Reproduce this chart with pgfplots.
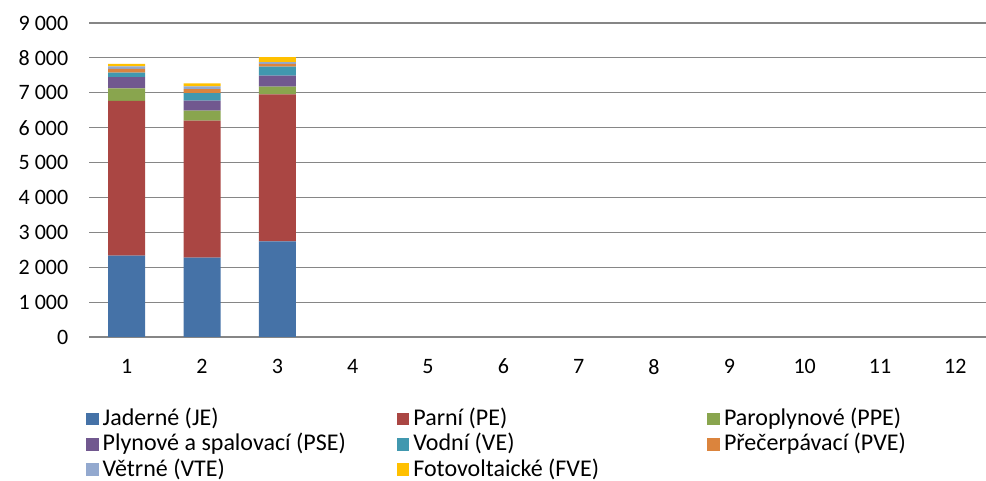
\documentclass[border=0pt]{standalone}
\usepackage{pgfplots}
\pgfplotsset{compat=1.18}
\usepackage{fontspec}
\setmainfont{Carlito}
\definecolor{cJE}{HTML}{4572A7}
\definecolor{cPE}{HTML}{AA4643}
\definecolor{cPPE}{HTML}{89A54E}
\definecolor{cPSE}{HTML}{71588F}
\definecolor{cVE}{HTML}{4198AF}
\definecolor{cPVE}{HTML}{DB843D}
\definecolor{cVTE}{HTML}{93A9CF}
\definecolor{cFVE}{HTML}{FFC000}
\definecolor{gridc}{HTML}{868686}
\newcommand{\lc}[1]{\makebox[220.5pt][l]{#1}}
\begin{document}
\begin{tikzpicture}
\useasboundingbox (0,0) rectangle (739.5pt,360.75pt);
\clip (0,0) rectangle (739.5pt,360.75pt);
\begin{axis}[
  at={(66.75pt,108pt)}, anchor=south west,
  scale only axis,
  width=678pt, height=235.5pt,
  ybar stacked, bar width=27.75pt,
  xmin=0.5, xmax=12.5,
  ymin=0, ymax=9000,
  xtick={1,...,12},
  ytick={0,1000,...,9000},
  yticklabels={0,1 000,2 000,3 000,4 000,5 000,6 000,7 000,8 000,9 000},
  ymajorgrids,
  grid style={gridc, line width=0.9pt},
  axis x line*=bottom, axis y line*=left,
  x axis line style={gridc, line width=1.3pt, -},
  y axis line style={draw=none},
  major tick length=0pt,
  tick label style={font=\fontsize{16.5}{19}\selectfont},
  /pgf/number format/assume math mode=true,
  xticklabel style={yshift=-13pt},
  yticklabel style={xshift=-12pt},
  every axis plot/.append style={draw=none},
  legend cell align=left,
  legend columns=3,
  legend image code/.code={\fill[#1] (0pt,-4.75pt) rectangle (9.5pt,4.75pt);},
  legend style={at={(-0.0033,-0.2225)}, anchor=north west, draw=none, fill=none,
    inner sep=0pt, outer sep=0pt,
    font=\fontsize{18}{21}\selectfont, row sep=1pt,
    nodes={inner xsep=0pt, inner ysep=1pt, text height=13pt, text depth=3pt},
    /tikz/every odd column/.style={column sep=3pt},
    /tikz/every even column/.style={column sep=0pt},
  },
]
\addplot[fill=cJE] coordinates {(1,2334) (2,2277) (3,2738)};
\addplot[fill=cPE] coordinates {(1,4435) (2,3922) (3,4213)};
\addplot[fill=cPPE] coordinates {(1,355) (2,289) (3,222)};
\addplot[fill=cPSE] coordinates {(1,327) (2,289) (3,318)};
\addplot[fill=cVE] coordinates {(1,127) (2,211) (3,260)};
\addplot[fill=cPVE] coordinates {(1,104) (2,116) (3,76)};
\addplot[fill=cVTE] coordinates {(1,78) (2,78) (3,49)};
\addplot[fill=cFVE] coordinates {(1,67) (2,87) (3,144)};
\legend{\lc{Jaderné (JE)},\lc{Parní (PE)},Paroplynové (PPE),\lc{Plynové a spalovací (PSE)},\lc{Vodní (VE)},Přečerpávací (PVE),\lc{Větrné (VTE)},\lc{Fotovoltaické (FVE)}}
\end{axis}
\end{tikzpicture}
\end{document}
